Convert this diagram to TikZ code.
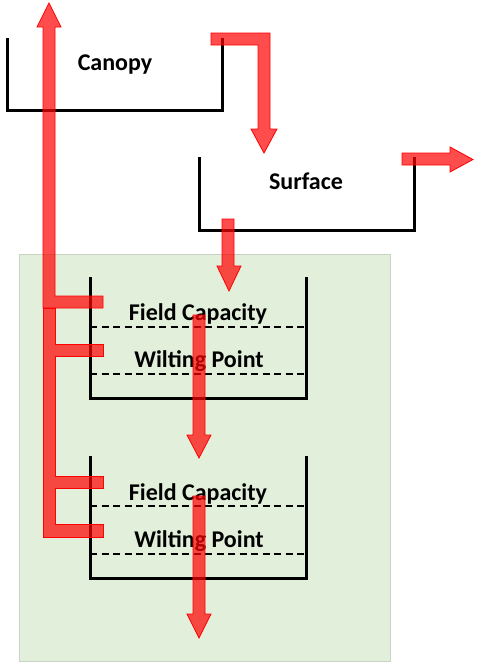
\documentclass[tikz,border=0pt]{standalone}
\usepackage{fontspec}
\setmainfont{Carlito}
\usepackage{tikz}
\usepackage{xcolor}
\definecolor{sol}{HTML}{E2EFDA}
\definecolor{bordsol}{HTML}{C9D3C4}
\tikzset{
  bac/.style={line width=3pt, line join=miter},
  niveau/.style={line width=1.6pt, dash pattern=on 7pt off 4.5pt},
  flux/.style={fill=red, fill opacity=0.7, draw=red, line width=0.8pt, line join=miter},
  etiquette/.style={font=\fontsize{24}{27}\selectfont\bfseries, anchor=base, inner sep=0pt}
}
\begin{document}
\begin{tikzpicture}[x=1pt,y=-1pt]
    \useasboundingbox (0,0) rectangle (480,670);
    % sol
    \filldraw[fill=sol, draw=bordsol, line width=1pt] (19,254) rectangle (390,661);
    % réservoirs
    \draw[bac] (7,38) -- (7,110) -- (222,110) -- (222,38);
    \draw[bac] (199,157) -- (199,230) -- (414,230) -- (414,157);
    \draw[bac] (90,277) -- (90,398) -- (306,398) -- (306,277);
    \draw[bac] (90,456) -- (90,578) -- (306,578) -- (306,456);
    \draw[niveau] (90,327) -- (306,327);
    \draw[niveau] (90,374) -- (306,374);
    \draw[niveau] (90,506) -- (306,506);
    \draw[niveau] (90,554) -- (306,554);
    \node[etiquette] (canopy) at (115,70) {Canopy};
    \node[etiquette] (surface) at (306,189) {Surface};
    \node[etiquette] (fc1) at (198,320) {Field Capacity};
    \node[etiquette] (wp1) at (199,367) {Wilting Point};
    \node[etiquette] (fc2) at (198,500) {Field Capacity};
    \node[etiquette] (wp2) at (199,547) {Wilting Point};
    % flux
    \filldraw[flux] (103,296) -- (55,296) -- (55,27) -- (61,27) -- (49,3) -- (37,27)
        -- (43,27) -- (43,308) -- (103,308) -- cycle;
    \filldraw[flux] (43,308) -- (55,308) -- (55,344) -- (103,344) -- (103,356) -- (55,356)
        -- (55,476) -- (103,476) -- (103,488) -- (55,488) -- (55,524) -- (103,524)
        -- (103,537) -- (43,537) -- cycle;
    \filldraw[flux] (211,33) -- (270,33) -- (270,129) -- (277,129) -- (264,153) -- (251,129)
        -- (258,129) -- (258,45) -- (211,45) -- cycle;
    \filldraw[flux] (402,153) -- (450,153) -- (450,147) -- (473,159.5) -- (450,172)
        -- (450,165) -- (402,165) -- cycle;
    \filldraw[flux] (222,219) -- (234,219) -- (234,266) -- (241,266) -- (229,291) -- (217,266)
        -- (222,266) -- cycle;
    \filldraw[flux] (193,315) -- (205,315) -- (205,435) -- (211,435) -- (199,458) -- (187,435)
        -- (193,435) -- cycle;
    \filldraw[flux] (193,496) -- (205,496) -- (205,614) -- (211,614) -- (199,638) -- (187,614)
        -- (193,614) -- cycle;
\end{tikzpicture}
\end{document}
